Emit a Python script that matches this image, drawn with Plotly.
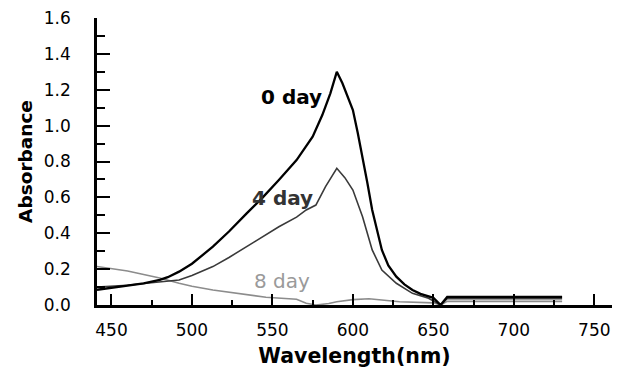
import plotly.graph_objects as go

# Wavelength (nm) and absorbance values
wl_0 = [441, 450, 460, 470, 480, 485, 492, 500, 513, 523, 534, 544, 554, 565, 575, 581, 586, 590,
        593.5, 597, 600, 603, 606, 609, 612, 615, 618, 622, 627, 632, 637, 642, 647, 650, 654.5,
        658.6, 670, 690, 710, 730]
abs_0 = [0.085, 0.095, 0.105, 0.12, 0.14, 0.155, 0.186, 0.23, 0.325, 0.41, 0.511, 0.60, 0.697, 0.808,
         0.938, 1.059, 1.18, 1.30, 1.236, 1.16, 1.087, 0.96, 0.827, 0.68, 0.53, 0.41, 0.307, 0.22,
         0.158, 0.115, 0.084, 0.062, 0.046, 0.04, 0.0, 0.045, 0.045, 0.045, 0.045, 0.045]

wl_4 = [441, 450, 460, 470, 480, 485, 492, 500, 513, 523, 534, 544, 554, 565, 571, 577, 583, 590,
        595, 600, 606, 612, 618, 627, 637, 647, 654.5, 658.6, 690, 730]
abs_4 = [0.10, 0.105, 0.11, 0.12, 0.13, 0.135, 0.139, 0.165, 0.214, 0.265, 0.325, 0.38, 0.436, 0.49,
         0.53, 0.557, 0.66, 0.762, 0.71, 0.641, 0.492, 0.307, 0.195, 0.121, 0.065, 0.037, 0.0, 0.035,
         0.035, 0.035]

wl_8 = [441, 450, 460, 470, 480, 492, 500, 513, 534, 546, 565, 571, 577, 585, 590, 600, 610, 620,
        629, 650, 654.5, 658.6, 690, 730]
abs_8 = [0.215, 0.205, 0.19, 0.17, 0.15, 0.121, 0.105, 0.084, 0.056, 0.043, 0.032, 0.01, 0.0, 0.008,
         0.018, 0.03, 0.035, 0.025, 0.018, 0.012, 0.0, 0.02, 0.02, 0.02]

labels = ["0 day", "4 day", "8 day"]
label_x = [562, 556.5, 555.8]
label_y = [1.16, 0.596, 0.134]

y_ticks = [0.0, 0.2, 0.4, 0.6, 0.8, 1.0, 1.2, 1.4, 1.6]
x_ticks = [450, 500, 550, 600, 650, 700, 750]

fig = go.Figure()
fig.add_trace(go.Scatter(x=wl_8, y=abs_8, mode="lines", line=dict(color="#8c8c8c", width=1.6)))
fig.add_trace(go.Scatter(x=wl_4, y=abs_4, mode="lines", line=dict(color="#3a3a3a", width=1.6)))
fig.add_trace(go.Scatter(x=wl_0, y=abs_0, mode="lines", line=dict(color="#000000", width=2.3)))

label_styles = [
    dict(color="#000000", weight="bold"),
    dict(color="#333333", weight="bold"),
    dict(color="#9a9a9a", weight="normal"),
]
for t, lx, ly, st in zip(labels, label_x, label_y, label_styles):
    fig.add_annotation(x=lx, y=ly, text=t, showarrow=False, xanchor="center", yanchor="middle",
                       font=dict(family="DejaVu Sans", size=20, color=st["color"], weight=st["weight"]))

# page body has an 8px margin, so the figure is 8px smaller and margins shifted
fig.update_layout(
    width=616, height=361,
    margin=dict(l=89, r=12, t=10, b=64),
    paper_bgcolor="white", plot_bgcolor="white",
    showlegend=False,
    font=dict(family="DejaVu Sans", color="black"),
)
fig.update_xaxes(
    range=[441, 761], tickvals=x_ticks, ticks="inside", ticklen=11, tickwidth=2, tickcolor="black",
    minor=dict(dtick=25, tick0=450, ticks="inside", ticklen=5, tickwidth=2, tickcolor="black"),
    showline=True, linecolor="black", linewidth=2.5, showgrid=False, zeroline=False,
    tickfont=dict(size=17, family="DejaVu Sans"), ticklabelstandoff=8, automargin=False,
    ticklabeloverflow="allow",
    title=dict(text="Wavelength(nm)", font=dict(size=20.5, family="DejaVu Sans", weight="bold"), standoff=10),
)
fig.update_yaxes(
    range=[0, 1.6], tickvals=y_ticks, tickformat=".1f", ticks="inside", ticklen=13, tickwidth=2,
    tickcolor="black",
    minor=dict(dtick=0.1, tick0=0, ticks="inside", ticklen=8, tickwidth=2, tickcolor="black"),
    showline=True, linecolor="black", linewidth=2.5, showgrid=False, zeroline=False,
    tickfont=dict(size=17, family="DejaVu Sans"), ticklabelstandoff=20, automargin=False,
    ticklabeloverflow="allow",
    title=dict(text="Absorbance", font=dict(size=18.5, family="DejaVu Sans", weight="bold"), standoff=7),
)

fig.write_html("out.html")
